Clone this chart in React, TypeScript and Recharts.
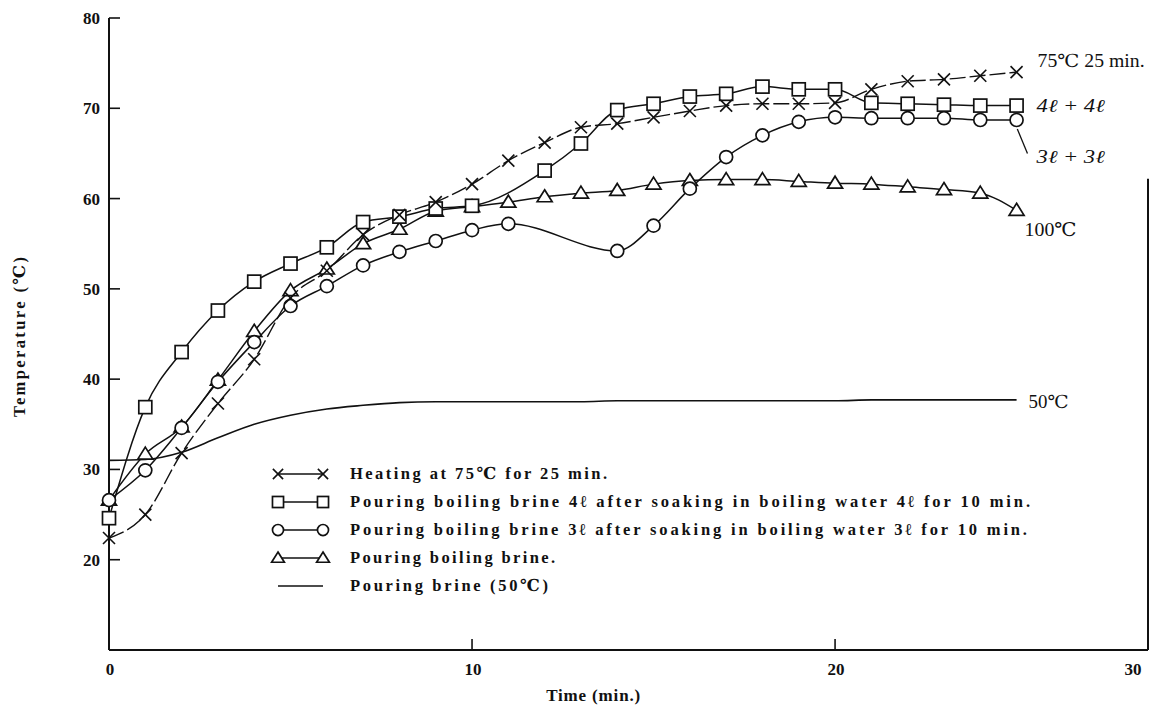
import React from 'react';
import { LineChart, Line, XAxis, YAxis, Legend, LabelList, ReferenceLine } from 'recharts';

// minutes after the start
const minutes = [0, 1, 2, 3, 4, 5, 6, 7, 8, 9, 10, 11, 12, 13, 14, 15, 16, 17, 18, 19, 20, 21, 22, 23, 24, 25];

// temperatures (°C), null = no marker drawn
const heating75 = [22.4, 25.0, 31.8, 37.3, 42.2, 49.0, 52.0, 56.0, 58.2, 59.6, 61.6, 64.2, 66.2, 67.9, 68.3, 69.0, 69.7, 70.3, 70.5, 70.5, 70.6, 72.1, 73.0, 73.2, 73.6, 74.0];
const brine4 = [24.6, 36.9, 43.0, 47.6, 50.8, 52.8, 54.6, 57.4, 58.0, 58.9, 59.2, null, 63.1, 66.1, 69.8, 70.5, 71.3, 71.6, 72.4, 72.1, 72.1, 70.6, 70.5, 70.4, 70.3, 70.3];
const brine3 = [26.6, 29.9, 34.6, 39.7, 44.1, 48.1, 50.3, 52.6, 54.1, 55.3, 56.5, 57.2, null, null, 54.2, 57.0, 61.1, 64.6, 67.0, 68.5, 69.0, 68.9, 68.9, 68.9, 68.7, 68.7];
const boilingBrine = [26.6, 31.7, 34.7, 39.9, 45.3, 49.8, 52.2, 55.0, 56.6, 58.6, 59.1, 59.6, 60.2, 60.6, 60.9, 61.6, 62.0, 62.1, 62.1, 61.9, 61.7, 61.6, 61.3, 61.0, 60.6, 58.7];
const brine50 = [31.0, 31.1, 31.9, 33.5, 35.0, 36.0, 36.7, 37.1, 37.4, 37.5, 37.5, 37.5, 37.5, 37.5, 37.6, 37.6, 37.6, 37.6, 37.6, 37.6, 37.6, 37.7, 37.7, 37.7, 37.7, 37.7];

const seriesNames = [
  'Heating at 75℃ for 25 min.',
  'Pouring boiling brine 4ℓ after soaking in boiling water 4ℓ for 10 min.',
  'Pouring boiling brine 3ℓ after soaking in boiling water 3ℓ for 10 min.',
  'Pouring boiling brine.',
  'Pouring brine (50℃)',
];
const endLabels = ['75℃ 25 min.', '4ℓ + 4ℓ', '3ℓ + 3ℓ', '100℃', '50℃'];

const yTicks = [20, 30, 40, 50, 60, 70, 80];
// the printed frame stops short of 30 min; its right edge carries the "30"
const X_END = 28.62;
const xTicks = [0, 10, 20, X_END];

const data = minutes.map((t, i) => ({
  t,
  heat: heating75[i],
  b4: brine4[i],
  b3: brine3[i],
  boil: boilingBrine[i],
  b50: brine50[i],
}));

const FONT = '"Liberation Serif", "DejaVu Serif", serif';
const INK = '#111';

type Kind = 'cross' | 'square' | 'circle' | 'triangle' | 'none';

const marker = (kind: Kind, cx: number, cy: number, s = 1) => {
  switch (kind) {
    case 'cross':
      return (
        <g stroke={INK} strokeWidth={1.6}>
          <line x1={cx - 6 * s} y1={cy - 6 * s} x2={cx + 6 * s} y2={cy + 6 * s} />
          <line x1={cx - 6 * s} y1={cy + 6 * s} x2={cx + 6 * s} y2={cy - 6 * s} />
        </g>
      );
    case 'square':
      return <rect x={cx - 6.5 * s} y={cy - 6.5 * s} width={13 * s} height={13 * s} fill="#fff" stroke={INK} strokeWidth={1.7} />;
    case 'circle':
      return <circle cx={cx} cy={cy} r={6.5 * s} fill="#fff" stroke={INK} strokeWidth={1.7} />;
    case 'triangle':
      return <path d={`M${cx},${cy - 7 * s} L${cx + 7.5 * s},${cy + 5 * s} L${cx - 7.5 * s},${cy + 5 * s} Z`} fill="#fff" stroke={INK} strokeWidth={1.7} />;
    default:
      return null;
  }
};

const dotFor = (kind: Kind) => (props: any) => {
  const { cx, cy, index, value } = props;
  if (cx == null || cy == null || value == null) return <g key={`d-${index}`} />;
  return <g key={`d-${index}`}>{marker(kind, cx, cy)}</g>;
};

// text at the end of each curve
const endLabel = (text: string, dx: number, dy: number, size: number, len: number, italic = false) => (props: any) => {
  const { index, viewBox } = props;
  if (index !== minutes.length - 1) return null;
  const x = viewBox?.x ?? props.x;
  const y = viewBox?.y ?? props.y;
  return (
    <text x={x + dx} y={y + dy} fontFamily={FONT} fontSize={size} fontStyle={italic ? 'italic' : 'normal'} fill={INK} textLength={len} lengthAdjust="spacingAndGlyphs">
      {text}
    </text>
  );
};

const legendKinds: Record<string, { kind: Kind; len: number }> = {
  heat: { kind: 'cross', len: 257 },
  b4: { kind: 'square', len: 680 },
  b3: { kind: 'circle', len: 677 },
  boil: { kind: 'triangle', len: 205 },
  b50: { kind: 'none', len: 198 },
};

const LegendBox = (props: any) => {
  const { payload = [] } = props;
  return (
    <svg width={800} height={150}>
      {payload.map((entry: any, i: number) => {
        const info = legendKinds[entry.dataKey];
        const y = 19 + i * 28;
        return (
          <g key={entry.dataKey}>
            <line x1={18} x2={63} y1={y} y2={y} stroke={INK} strokeWidth={1.5} />
            {marker(info.kind, 18, y, 0.85)}
            {marker(info.kind, 63, y, 0.85)}
            <text x={90} y={y + 5} fontFamily={FONT} fontWeight="bold" fontSize={16.5} fill={INK} textLength={info.len} lengthAdjust="spacing">
              {entry.value}
            </text>
          </g>
        );
      })}
    </svg>
  );
};

const YTick = (props: any) => {
  const { x, y, payload } = props;
  return (
    <g>
      <line x1={x + 9} x2={x + 20} y1={y} y2={y} stroke={INK} strokeWidth={1.6} />
      <text x={x} y={y + 6} textAnchor="end" fontFamily={FONT} fontWeight="bold" fontSize={17} fill={INK}>
        {payload.value}
      </text>
    </g>
  );
};

const XTick = (props: any) => {
  const { x, y, payload } = props;
  const v = payload.value;
  const isEnd = v === X_END;
  const inner = v !== 0 && !isEnd;
  return (
    <g>
      {inner && <line x1={x} x2={x} y1={y} y2={y - 11} stroke={INK} strokeWidth={1.6} />}
      <text x={isEnd ? x - 15 : x + 1} y={y + 25} textAnchor="middle" fontFamily={FONT} fontWeight="bold" fontSize={17} fill={INK}>
        {isEnd ? '30' : v}
      </text>
    </g>
  );
};

export default function App() {
  return (
    <div style={{ position: 'absolute', left: 0, top: 0, background: '#fff' }}>
      <LineChart width={1150} height={706} data={data} margin={{ top: 18, right: 2, bottom: 16, left: 49 }}>
        <XAxis
          dataKey="t"
          type="number"
          domain={[0, X_END]}
          ticks={xTicks}
          interval={0}
          tickSize={0}
          tickMargin={0}
          height={40}
          tick={<XTick />}
          axisLine={{ stroke: INK, strokeWidth: 2 }}
          label={{
            content: ({ viewBox }: any) => (
              <text x={viewBox.x + viewBox.width * 0.466} y={viewBox.y + 51} textAnchor="middle" fontFamily={FONT} fontWeight="bold" fontSize={17} fill={INK} textLength={94} lengthAdjust="spacing">
                Time (min.)
              </text>
            ),
          }}
        />
        <XAxis xAxisId="top" orientation="top" dataKey="t" type="number" domain={[0, X_END]} height={0} tick={false} tickLine={false} axisLine={{ stroke: INK, strokeWidth: 2 }} />
        <YAxis
          type="number"
          domain={[10, 80]}
          ticks={yTicks}
          interval={0}
          width={60}
          tickSize={0}
          tickMargin={9}
          tick={<YTick />}
          axisLine={{ stroke: INK, strokeWidth: 2 }}
          label={{
            content: ({ viewBox }: any) => {
              const cx = viewBox.x - 30;
              const cy = viewBox.y + viewBox.height / 2 + 3;
              return (
                <text x={cx} y={cy} transform={`rotate(-90, ${cx}, ${cy})`} textAnchor="middle" dominantBaseline="central" fontFamily={FONT} fontWeight="bold" fontSize={16.5} fill={INK} textLength={160} lengthAdjust="spacing">
                  Temperature (℃)
                </text>
              );
            },
          }}
        />
        <ReferenceLine segment={[{ x: X_END, y: 10 }, { x: X_END, y: 62.2 }]} stroke={INK} strokeWidth={2} />
        <ReferenceLine segment={[{ x: 25.02, y: 67.7 }, { x: 25.3, y: 65.0 }]} stroke={INK} strokeWidth={1.3} />

        <Line type="monotone" dataKey="b50" name={seriesNames[4]} stroke={INK} strokeWidth={1.6} dot={false} isAnimationActive={false}>
          <LabelList content={endLabel(endLabels[4], 12, 8, 18, 40)} />
        </Line>
        <Line type="monotone" dataKey="boil" name={seriesNames[3]} stroke={INK} strokeWidth={1.5} dot={dotFor('triangle')} isAnimationActive={false}>
          <LabelList content={endLabel(endLabels[3], 8, 26, 19, 52)} />
        </Line>
        <Line type="monotone" dataKey="b3" name={seriesNames[2]} stroke={INK} strokeWidth={1.5} dot={dotFor('circle')} connectNulls isAnimationActive={false}>
          <LabelList content={endLabel(endLabels[2], 20, 43, 18, 68, true)} />
        </Line>
        <Line type="monotone" dataKey="b4" name={seriesNames[1]} stroke={INK} strokeWidth={1.5} dot={dotFor('square')} connectNulls isAnimationActive={false}>
          <LabelList content={endLabel(endLabels[1], 20, 6, 18, 68, true)} />
        </Line>
        <Line type="monotone" dataKey="heat" name={seriesNames[0]} stroke={INK} strokeWidth={1.4} strokeDasharray="16 4" dot={dotFor('cross')} isAnimationActive={false}>
          <LabelList content={endLabel(endLabels[0], 21, -5, 18, 107)} />
        </Line>

        <Legend
          layout="vertical"
          align="center"
          verticalAlign="middle"
          wrapperStyle={{ left: 260, top: 455, width: 800, height: 150 }}
          content={(p: any) => <LegendBox payload={[...(p.payload || [])].sort((a: any, b: any) => seriesNames.indexOf(a.value) - seriesNames.indexOf(b.value))} />}
        />
      </LineChart>
    </div>
  );
}
